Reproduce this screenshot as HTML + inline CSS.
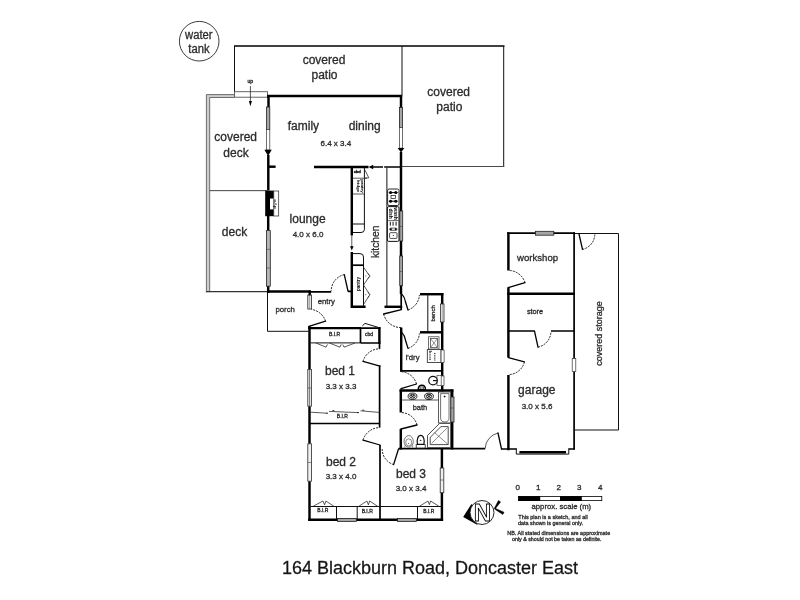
<!DOCTYPE html>
<html>
<head>
<meta charset="utf-8">
<title>164 Blackburn Road, Doncaster East</title>
<style>
html,body{margin:0;padding:0;background:#fff;width:800px;height:600px;overflow:hidden}
svg{display:block;position:absolute;left:0;top:0;filter:grayscale(1) blur(0.3px)}
text{font-family:"Liberation Sans",sans-serif;fill:#2b2b2b;stroke:#2b2b2b;stroke-width:0.3px}
.w{stroke:#000;stroke-width:2.45;fill:none}
.m{stroke:#000;stroke-width:1.7;fill:none}
.t{stroke:#111;stroke-width:1;fill:none}
.h{stroke:#222;stroke-width:0.75;fill:none}
.k{stroke:#444;stroke-width:0.6;fill:none}
.d{stroke:#111;stroke-width:0.95;fill:none;stroke-dasharray:2 1.1}
.l{stroke:#000;stroke-width:1.3;fill:none;stroke-linecap:round}
.wg{fill:#a6a6a6;stroke:#222;stroke-width:0.8}
.wl{fill:#f0f0f0;stroke:#2a2a2a;stroke-width:0.8}
.ww{fill:#fff;stroke:#333;stroke-width:0.7}
.r{font-size:12px}
.s{font-size:8px}
.x{font-size:5px;fill:#222}
</style>
</head>
<body>
<svg width="800" height="600" viewBox="0 0 800 600">
<rect width="800" height="600" fill="#fff"/>
<!-- ===== water tank ===== -->
<g id="tank">
<circle cx="199.2" cy="41.2" r="19.8" stroke="#333" stroke-width="0.95" fill="none"/>
<text x="198.8" y="39.4" text-anchor="middle" class="r" textLength="27.6" lengthAdjust="spacingAndGlyphs">water</text>
<text x="199" y="53" text-anchor="middle" class="r" textLength="21.3" lengthAdjust="spacingAndGlyphs">tank</text>
</g>

<!-- ===== patios ===== -->
<g id="patios">
<path class="m" d="M234 46H504.5"/>
<path class="t" d="M234.5 46V92M402 46V95M503.7 46V167"/>
<path d="M402 166.5H504.2" stroke="#4a4a4a" stroke-width="1.1" fill="none"/>
<text x="324" y="63.6" text-anchor="middle" class="r">covered</text>
<text x="324.5" y="78.6" text-anchor="middle" class="r">patio</text>
<text x="448.7" y="96" text-anchor="middle" class="r">covered</text>
<text x="449.3" y="111" text-anchor="middle" class="r">patio</text>
</g>

<!-- ===== decks ===== -->
<g id="decks">
<rect x="206.4" y="95.2" width="3.3" height="197" fill="#cdcdcd"/>
<rect x="206.4" y="94.6" width="28.4" height="3" fill="#cdcdcd"/>
<rect x="234.5" y="91.7" width="33" height="5.5" fill="#fff" stroke="#555" stroke-width="0.9"/>
<path d="M234.5 94.6H206.4V292.2M234.5 97.5H209.7V291" stroke="#5a5a5a" stroke-width="0.85" fill="none"/>
<path d="M206 291.7H267.5" stroke="#333" stroke-width="1.3" fill="none"/>
<path d="M209.7 190.65H267" stroke="#444" stroke-width="1" fill="none"/>
<text x="235.7" y="140.8" text-anchor="middle" class="r">covered</text>
<text x="236" y="156.8" text-anchor="middle" class="r">deck</text>
<text x="234.5" y="235.7" text-anchor="middle" class="r">deck</text>
<text x="250.3" y="82.6" text-anchor="middle" style="font-size:5px;fill:#111">up</text>
<path class="h" d="M250.4 86V103"/>
<path d="M248.9 101H251.9L250.4 106.3Z" fill="#000"/>
</g>
<!-- ===== main house walls ===== -->
<g id="house">
<path class="w" d="M267.2 95.9H402.2"/>
<path class="w" d="M268.5 95V107M268.3 155V190.6M268.2 216V230.6M268.2 286V293" stroke-width="2.6"/>
<path class="w" d="M401 95V107.5M401 152V211M401 241V256M401 285.5V294"/>
<path class="m" d="M401.2 294V310"/>
<path class="w" d="M267 291.5H310.8" stroke-width="2.5"/>
<path class="m" d="M310.5 291.9H331.2M348 291.3H351"/>
<path class="w" d="M268 166.7H275.6"/>
<path class="w" d="M314 167H368.5" stroke-width="2.25"/>
<path d="M368.6 167L373.2 164.8V169.2Z" fill="#000"/>
<path class="m" d="M373 167H383M384.2 167H401"/>
<path class="w" d="M351.8 166V235.5M351.8 252V307.8M350.6 306.8H365.6" stroke-width="2.2"/>
<path class="h" d="M351.8 235.5V247"/>
<path d="M350 246.2H353.6L351.8 250.6Z" fill="#000"/>
<path class="w" d="M384.5 306.8H402.2"/>
<path class="t" d="M386.9 168V306"/>

<!-- sliding doors -->
<rect x="266.5" y="107" width="3.3" height="22.4" class="wg"/>
<rect x="266.5" y="129.4" width="3.3" height="20.6" class="ww"/>
<path d="M264.4 149.7H271.8L268.1 156Z" fill="#000"/>
<rect x="399.4" y="107.5" width="3.2" height="20" class="wg"/>
<rect x="399.4" y="127.5" width="3.2" height="20.6" class="ww"/>
<path d="M397.6 148H404.4L401 152.6Z" fill="#000"/>

<!-- lounge window -->
<rect x="266.4" y="230.6" width="3.9" height="55.6" class="wg" style="fill:#b6b6b6"/>
<path class="k" d="M266.4 249.4H270.1M266.4 268H270.1"/>
<!-- porch window -->
<rect x="307.8" y="295" width="3.7" height="14" fill="#f4f4f4" stroke="#222" stroke-width="0.8"/><path d="M309.65 295V309" stroke="#666" stroke-width="0.6"/>
<!-- kitchen windows -->
<rect x="399.8" y="211" width="2.9" height="30" class="wg"/>
<path class="k" d="M399.8 226.5H402.7"/>
<rect x="399.7" y="256" width="2.9" height="29.5" class="wg"/>
<path class="k" d="M399.7 271.5H402.6"/>

<!-- fireplace -->
<rect x="265.2" y="190.6" width="8.6" height="25.6" fill="#000"/>
<rect x="270" y="198.5" width="3.9" height="10.9" fill="#fff"/>
<rect x="273.8" y="191" width="4.9" height="25" fill="#fff" stroke="#222" stroke-width="0.7"/>
<text transform="translate(274.2,204) rotate(90)" text-anchor="middle" style="font-size:4.4px;fill:#000;font-weight:bold;stroke:none">o.f.p</text>

<!-- porch -->
<path class="t" d="M267.5 293V331.3H308.5"/>
<path class="w" d="M309.7 290.5V295.3"/>
<!-- entry door -->
<path class="l" d="M308.9 326.3L325.6 321.2"/>
<path class="d" d="M325.6 321.2A17.6 17.6 0 0 0 311.4 309.4"/>
<!-- lounge / entry door -->
<path class="l" d="M348 291L344.3 274.6"/>
<path class="d" d="M344.3 274.6A16.9 16.9 0 0 0 331.2 291"/>
</g>
<!-- ===== kitchen fixtures ===== -->
<g id="kitchen">
<!-- left upper counter -->
<path class="t" d="M364.4 168V229.5Q364.4 232.5 361 232.5H353"/>
<path class="h" d="M353 178.2H367M353 194H364.4"/><path class="t" d="M353 224H364.4"/>
<path class="h" d="M364.4 169L368.8 177.8L365 178.2"/>
<text x="357.2" y="173" text-anchor="middle" style="font-size:4.4px;fill:#000;stroke:#000">cbd</text>
<text transform="translate(356.6,186) rotate(90)" text-anchor="middle" style="font-size:4.4px;fill:#000;font-weight:bold;stroke:none">fridge</text>
<text transform="translate(360.8,186) rotate(90)" text-anchor="middle" style="font-size:4.4px;fill:#000;font-weight:bold;stroke:none">pantry</text>
<!-- left lower counter -->
<path class="t" d="M353 253.6H360Q363.5 253.6 363.5 257V306"/>
<path class="m" d="M353 265.2H363.5"/>
<text transform="translate(359.6,284) rotate(-90)" text-anchor="middle" style="font-size:4.6px;fill:#000;font-weight:bold;stroke:none">pantry</text>
<path class="h" d="M363.5 267.2L369 275M369 277L363.5 285L369 293.5M369 296L363.5 304.5"/>
<path class="h" d="M368 273.5L370 276.5M368 278.5L370 275.8M368 292L370 295M368 297.5L370 294.5M365.3 276H366.3M365.3 294.6H366.3"/>
<!-- stove -->
<rect x="387.6" y="189" width="11.4" height="16.5" rx="1.6" fill="#fff" stroke="#111" stroke-width="0.9"/>
<g fill="#000">
<circle cx="390.6" cy="192.6" r="1.5"/><circle cx="395.8" cy="192.6" r="1.5"/>
<circle cx="390.6" cy="201.2" r="1.5"/><circle cx="395.8" cy="201.2" r="1.5"/>
<rect x="388.8" y="192.1" width="8.8" height="1" /><rect x="388.8" y="200.7" width="8.8" height="1"/>
</g>
<rect x="391" y="195.4" width="4.4" height="3" fill="#fff" stroke="#111" stroke-width="0.7"/>
<!-- sink unit -->
<rect x="387.4" y="206.6" width="11.6" height="34.8" rx="1.4" fill="#fff" stroke="#111" stroke-width="1"/>
<text transform="translate(388.9,213.6) rotate(90)" text-anchor="middle" style="font-size:5px;fill:#000;font-weight:bold;stroke:none">dish</text>
<text transform="translate(393.7,213.6) rotate(90)" text-anchor="middle" style="font-size:5px;fill:#000;font-weight:bold;stroke:none">wash</text>
<path d="M390.3 221.8V225.7M393.1 221.8V225.7M396.1 221.8V225.7" stroke="#111" stroke-width="1" fill="none"/>
<path d="M388.2 220.6H398.4" stroke="#222" stroke-width="0.7"/>
<rect x="389.6" y="228.1" width="7.4" height="2.2" rx="1.1" fill="#fff" stroke="#111" stroke-width="0.7"/>
<circle cx="390.9" cy="229.2" r="0.95" fill="#000"/><circle cx="395.7" cy="229.2" r="0.95" fill="#000"/>
<rect x="389.6" y="232.7" width="7.4" height="5.7" rx="0.8" fill="#fff" stroke="#222" stroke-width="0.8"/>
<circle cx="393.3" cy="235.5" r="0.55" fill="#000"/>
</g>
<!-- ===== bedrooms ===== -->
<g id="beds">
<path class="w" d="M308.1 328.1H361" stroke-width="2.8"/>
<path class="m" d="M360.4 328.2H380.2M360.4 343H380.2"/>
<path class="m" d="M360.5 328V343" stroke-width="2"/>
<path class="w" d="M379.4 327V343.8" stroke-width="2.1"/>
<path class="m" d="M379.5 343V348.8"/>
<path class="w" d="M309.5 326V369.4M309.5 406.2V443.8M309.5 481.2V521" stroke-width="2.9"/>
<path class="w" d="M308.2 519.8H443.1" stroke-width="2.3"/>
<path class="m" d="M310 423.5H380"/>
<path class="m" d="M379.6 365.6V427.5M380 445V520" stroke-width="1.8"/>
<path class="w" d="M441.9 448V468M441.9 492.7V521"/>
<path class="t" d="M310.5 342.9H360"/>
<path class="t" d="M310.5 506.5H441M336.5 506.5V519M357.2 506.5V519M417.5 506.5V519"/>

<!-- windows -->
<rect x="307.8" y="369.4" width="3.6" height="36.8" class="wl"/>
<path class="k" d="M307.8 388H311.4"/><path d="M309.6 369.4V406.2M309.6 443.8V481.2M442 468V492.7" stroke="#444" stroke-width="0.7" fill="none"/>
<rect x="307.8" y="443.8" width="3.6" height="37.4" class="wl"/>
<path class="k" d="M307.8 462.5H311.4"/>
<rect x="337.5" y="518.4" width="18.8" height="3" class="wg"/>
<rect x="397.5" y="518.4" width="18.8" height="3" class="wg"/>
<rect x="440.2" y="468" width="3.6" height="24.7" class="wl"/>
<path class="k" d="M440.2 480H443.8"/>

<!-- BIR bed1 top bifolds -->
<path class="h" d="M316 343L326 347.2L327.4 344.4M329.4 343L340 347.2L341.2 344.4M355 343L344 347.2L342.8 344.6"/>
<!-- BIR bed1 bottom sliding -->
<path class="h" d="M310.5 412.2L327 413.2M329 411.4L358 412.6M360.5 410.8L379 412.4"/>
<path d="M326.2 413.2H328M332.5 410.6H334.3M357.2 412.6H359M362.4 410.2H364.2" stroke="#111" stroke-width="0.9" fill="none"/>
<!-- bottom BIR bifolds -->
<path class="h" d="M313.1 506.3L322.9 501L324.6 504.8L325.9 501L333.8 506.2"/>
<path class="h" d="M358.8 506.3L366.9 501L368.4 504.8L369.6 501L377.5 506.2"/>
<path class="h" d="M419.4 506.3L428 501L429.4 504.6L430.6 501L438.8 506.2"/>
<!-- cbd door in entry -->
<path class="t" d="M362.4 325.8L365 323.4L379.6 327.8"/>

<!-- doors -->
<path class="l" d="M380 366.1L363 361.4"/>
<path class="d" d="M363 361.4A17.3 17.3 0 0 1 379.6 348.8"/>
<path class="l" d="M380 445L363 440.1"/>
<path class="d" d="M363 440.1A17.6 17.6 0 0 1 379.6 427.6"/>
<path class="l" d="M398.5 449L393.6 464.6"/>
<path class="d" d="M393.6 464.6A16.3 16.3 0 0 1 382.2 449.2"/>

<text x="334.6" y="336" text-anchor="middle" class="x">B.I.R</text>
<text x="369" y="336" text-anchor="middle" class="x">cbd</text>
<text x="342.4" y="418" text-anchor="middle" class="x">B.I.R</text>
<text x="322.8" y="512.2" text-anchor="middle" class="x">B.I.R</text>
<text x="367.2" y="512.8" text-anchor="middle" class="x">B.I.R</text>
<text x="428.8" y="512.8" text-anchor="middle" class="x">B.I.R</text>
</g>
<!-- ===== laundry / wc / bath ===== -->
<g id="wet">
<path class="w" d="M420 294.2H443.4"/>
<path class="w" d="M442.2 293V304M442.2 322V350M442.2 362.5V376M442.2 385.5V391.5"/>
<path class="w" d="M420 332.3H443"/>
<path class="w" d="M401.2 327.5V371.6" stroke-width="2.1"/>
<path class="m" d="M400.2 370.8H442" stroke-width="1.6"/>
<path class="w" d="M399.6 390.5H453.4"/>
<path class="w" d="M400.8 389.4V412.4M400.8 429V449.4"/>
<path class="m" d="M398.5 448.6H485.2" stroke-width="1.9"/>
<path class="w" d="M452.2 389.4V397M452.2 422V449.4"/>
<path class="t" d="M427.8 295V331.5"/>
<text transform="translate(435.4,313.4) rotate(-90)" text-anchor="middle" style="font-size:6px;fill:#222">bench</text>

<!-- windows -->
<rect x="440.5" y="304" width="3.5" height="18" class="wl"/><path d="M442.25 304V322" stroke="#777" stroke-width="0.6" fill="none"/>
<rect x="440.8" y="350" width="3.3" height="12.5" class="ww"/>
<rect x="440.5" y="376" width="3.5" height="9.5" class="ww"/>
<rect x="450.8" y="397" width="3.2" height="25" class="wg"/>
<path class="k" d="M450.8 408H454"/>

<!-- doors -->
<path class="l" d="M402 294.4Q404.6 297 405.4 301.5L408 310"/>
<path class="d" d="M408 310A17 17 0 0 0 419.4 295"/>
<path class="l" d="M401.4 309.6L383.6 314"/>
<path class="d" d="M383.6 314A18 18 0 0 0 401 327.6"/>
<path class="l" d="M402 332.6Q404.6 335.2 405.4 340L408 348.4"/>
<path class="d" d="M408 348.4A17 17 0 0 0 419.4 333.4"/>
<path class="l" d="M401 388.6L416.5 384"/>
<path class="d" d="M416.5 384A16.5 16.5 0 0 0 401.6 371.8"/>
<path class="l" d="M400.9 429L417 425"/>
<path class="d" d="M417 425A16.5 16.5 0 0 0 401.2 412.6"/>

<!-- laundry tub + washer -->
<rect x="428.6" y="336.8" width="10.4" height="12.2" fill="#fff" stroke="#333" stroke-width="0.7"/>
<rect x="430.5" y="338.6" width="6.9" height="8.9" fill="#fff" stroke="#333" stroke-width="0.7"/>
<path class="k" d="M430.5 338.6L437.4 347.5M437.4 338.6L430.5 347.5"/>
<rect x="427.3" y="349.6" width="13.6" height="12.9" fill="#fff" stroke="#222" stroke-width="0.8"/>
<path d="M430 352V360.6M434.8 353V360.6" stroke="#111" stroke-width="1.1" stroke-dasharray="1.3 0.9" fill="none"/>
<path d="M429 351.3H432" stroke="#111" stroke-width="0.8"/>

<!-- wc -->
<rect x="437" y="375.6" width="4.2" height="10" fill="#fff" stroke="#444" stroke-width="0.7"/>
<circle cx="433" cy="380.6" r="4.3" fill="#fff" stroke="#111" stroke-width="1.2"/>
<path d="M433 380.6H437" stroke="#111" stroke-width="1.2"/>
<path d="M418.2 389.6Q418.4 385.2 421.8 385.2Q425.4 385.2 425.5 389.6Z" fill="#fff" stroke="#000" stroke-width="1.4"/>
<ellipse cx="421.8" cy="388" rx="2" ry="1.1" fill="none" stroke="#111" stroke-width="0.7"/>

<!-- vanity -->
<path d="M402 400H438.4" stroke="#444" stroke-width="0.9"/>
<g fill="none" stroke="#111" stroke-width="0.9">
<ellipse cx="412.5" cy="396.3" rx="4.4" ry="3.2"/><ellipse cx="412.5" cy="396.3" rx="2.7" ry="1.9"/>
<ellipse cx="429" cy="396.3" rx="4.4" ry="3.2"/><ellipse cx="429" cy="396.3" rx="2.7" ry="1.9"/>
<path d="M410.6 394.9L414.4 397.7M414.4 394.9L410.6 397.7M427.1 394.9L430.9 397.7M430.9 394.9L427.1 397.7"/>
</g>
<!-- tub -->
<rect x="438.5" y="392" width="12" height="31" fill="#fff" stroke="#333" stroke-width="0.8"/>
<path d="M440.6 393.6H449V417.8Q449 422 444.8 422Q440.6 422 440.6 417.8Z" fill="#fff" stroke="#333" stroke-width="0.7"/>
<path d="M443.6 396.5H445.6M444.6 395.5V397.5" stroke="#000" stroke-width="0.7"/>
<!-- shower -->
<path d="M439.5 423.4H450.6V447.6H427.5V435.5Z" fill="#fff" stroke="#222" stroke-width="0.8"/>
<path d="M441 426.6H448.2V444.6H430.2V437.4Z" fill="#fff" stroke="#222" stroke-width="0.8"/>
<path class="k" d="M434.6 432.6L448.2 444.6M447.4 427.6L431.6 443.4"/>
<!-- toilet + bidet -->
<ellipse cx="408.7" cy="441.4" rx="4.6" ry="5.8" fill="#fff" stroke="#555" stroke-width="0.8"/>
<ellipse cx="408.7" cy="442.4" rx="3" ry="3.6" fill="#fff" stroke="#555" stroke-width="0.7"/>
<circle cx="408.6" cy="443.6" r="0.5" fill="#222"/>
<path d="M404.8 447.6V445.5M412.6 447.6V445.5" stroke="#555" stroke-width="0.7"/>
<rect x="416.2" y="444.6" width="9" height="3.4" fill="#fff" stroke="#222" stroke-width="0.8"/>
<path d="M417.5 444.4C416.4 440 418 435.4 420.7 435.4C423.4 435.4 425 440 423.9 444.4Z" fill="#fff" stroke="#111" stroke-width="1.2"/>
<path d="M419.6 441L420.6 439.6L421.6 441Z" fill="#222"/>
</g>
<!-- ===== garage block ===== -->
<g id="garage">
<path class="m" d="M507.2 233.1H574.9" stroke-width="1.9"/>
<rect x="535.4" y="231.3" width="18.4" height="3.9" class="wg"/>
<path class="w" d="M508.4 232.2V270.6M508.4 287.5V357.5M508.4 375V450.2"/>
<path class="w" d="M507.2 293.8H575"/>
<path class="m" d="M508 331H534.6M551 331H574.5"/>
<path class="m" d="M574.1 232.2V449.6" stroke-width="1.9"/>
<rect x="572.2" y="358.4" width="3.6" height="13.2" class="ww"/>
<path class="m" d="M501.4 449H516.6M568.6 449H575"/>
<path class="t" d="M516.3 448.4V454.1H568.8V448.4"/>
<path d="M519.4 452.3H566" stroke="#000" stroke-width="2.6" fill="none"/>
<path class="t" d="M575 233.5H618.5V430H575"/>
<!-- doors -->
<path class="l" d="M508.2 287.6L525 282.6"/>
<path class="d" d="M525 282.6A17.5 17.5 0 0 0 508.7 270.4"/>
<path class="l" d="M534.5 331.2L538 347.2"/>
<path class="d" d="M538 347.2A16.6 16.6 0 0 0 551 331.6"/>
<path class="l" d="M508.4 357.6L524.4 361.9"/>
<path class="d" d="M524.4 361.9A16.5 16.5 0 0 1 508.8 374.6"/>
<path class="l" d="M579 234L582.5 249.4"/>
<path class="d" d="M582.5 249.4A15.8 15.8 0 0 0 594.8 234.4"/>
<path class="l" d="M501.5 449L498 433"/>
<path class="h" d="M498 433A16.4 16.4 0 0 0 485.2 448.4"/>
</g>
<!-- ===== labels ===== -->
<g id="labels">
<text x="303.4" y="130.2" text-anchor="middle" class="r">family</text>
<text x="364.7" y="130.2" text-anchor="middle" class="r">dining</text>
<text x="335.8" y="146" text-anchor="middle" class="s">6.4 x 3.4</text>
<text x="307.6" y="223.3" text-anchor="middle" class="r">lounge</text>
<text x="308" y="237" text-anchor="middle" class="s">4.0 x 6.0</text>
<text transform="translate(378.5,241.8) rotate(-90)" text-anchor="middle" style="font-size:10.3px">kitchen</text>
<text x="285.2" y="311.5" text-anchor="middle" style="font-size:7.8px">porch</text>
<text x="326.3" y="303.5" text-anchor="middle" style="font-size:7.8px">entry</text>
<text x="340" y="375.4" text-anchor="middle" style="font-size:12px">bed 1</text>
<text x="341" y="389.4" text-anchor="middle" class="s">3.3 x 3.3</text>
<text x="341" y="465.6" text-anchor="middle" style="font-size:12px">bed 2</text>
<text x="341" y="479" text-anchor="middle" class="s">3.3 x 4.0</text>
<text x="411" y="477.7" text-anchor="middle" style="font-size:12px">bed 3</text>
<text x="411" y="491" text-anchor="middle" class="s">3.0 x 3.4</text>
<text x="412.6" y="360" text-anchor="middle" style="font-size:7.7px">l'dry</text>
<text x="419.9" y="409.5" text-anchor="middle" style="font-size:7.4px">bath</text>
<text x="537.6" y="260.6" text-anchor="middle" style="font-size:9.6px">workshop</text>
<text x="535" y="313.6" text-anchor="middle" style="font-size:7.3px">store</text>
<text x="536.8" y="394.4" text-anchor="middle" class="r">garage</text>
<text x="537" y="409.4" text-anchor="middle" class="s">3.0 x 5.6</text>
<text transform="translate(601.9,333.5) rotate(-90)" text-anchor="middle" style="font-size:9px">covered storage</text>
</g>
<!-- ===== scale + notes ===== -->
<g id="scale">
<rect x="518.6" y="496.5" width="83.2" height="4.1" fill="#fff" stroke="#000" stroke-width="0.8"/>
<rect x="518.3" y="496.1" width="21.9" height="4.9" fill="#000"/>
<rect x="560" y="496.1" width="21.8" height="4.9" fill="#000"/>
<g style="font-size:8px;fill:#222" text-anchor="middle">
<text x="517.7" y="490">0</text><text x="538.2" y="490">1</text><text x="558.8" y="490">2</text><text x="579.2" y="490">3</text><text x="600.2" y="490">4</text>
</g>
<text x="531.5" y="508.8" textLength="59.7" lengthAdjust="spacingAndGlyphs" style="font-size:7.7px">approx. scale (m)</text>
<g style="font-size:5.5px;fill:#222">
<text x="518.3" y="518.5" textLength="69.4" lengthAdjust="spacingAndGlyphs">This plan is a sketch, and all</text>
<text x="518" y="524.8" textLength="65" lengthAdjust="spacingAndGlyphs">data shown is general only.</text>
<text x="507.2" y="534.7" textLength="103" lengthAdjust="spacingAndGlyphs">NB. All stated dimensions are approximate</text>
<text x="512" y="541" textLength="89.5" lengthAdjust="spacingAndGlyphs">only &amp; should not be taken as definite.</text>
</g>
</g>

<!-- ===== north ===== -->
<g id="north">
<path d="M463.2 517L471.5 503.8L477.5 525Z" fill="#000"/>
<circle cx="482" cy="512.5" r="12" fill="#fff" stroke="#111" stroke-width="0.9"/>
<path d="M495.1 508.9L494.4 508.3L498.4 500.5L500.6 501.9Z" fill="#000" stroke="#000" stroke-width="0.5" stroke-linejoin="round"/>
<path d="M494.5 509L495 508.2L504 512.3L502.8 514.5Z" fill="#000" stroke="#000" stroke-width="0.5" stroke-linejoin="round"/>
<text x="482.4" y="521.1" text-anchor="middle" style="font-size:24px;font-weight:bold;fill:#fff;stroke:#000;stroke-width:0.85px">N</text>
</g>

<!-- ===== title ===== -->
<text x="282" y="573.6" textLength="296.1" lengthAdjust="spacingAndGlyphs" style="font-size:18px;fill:#111">164 Blackburn Road, Doncaster East</text>
</svg>
</body>
</html>
